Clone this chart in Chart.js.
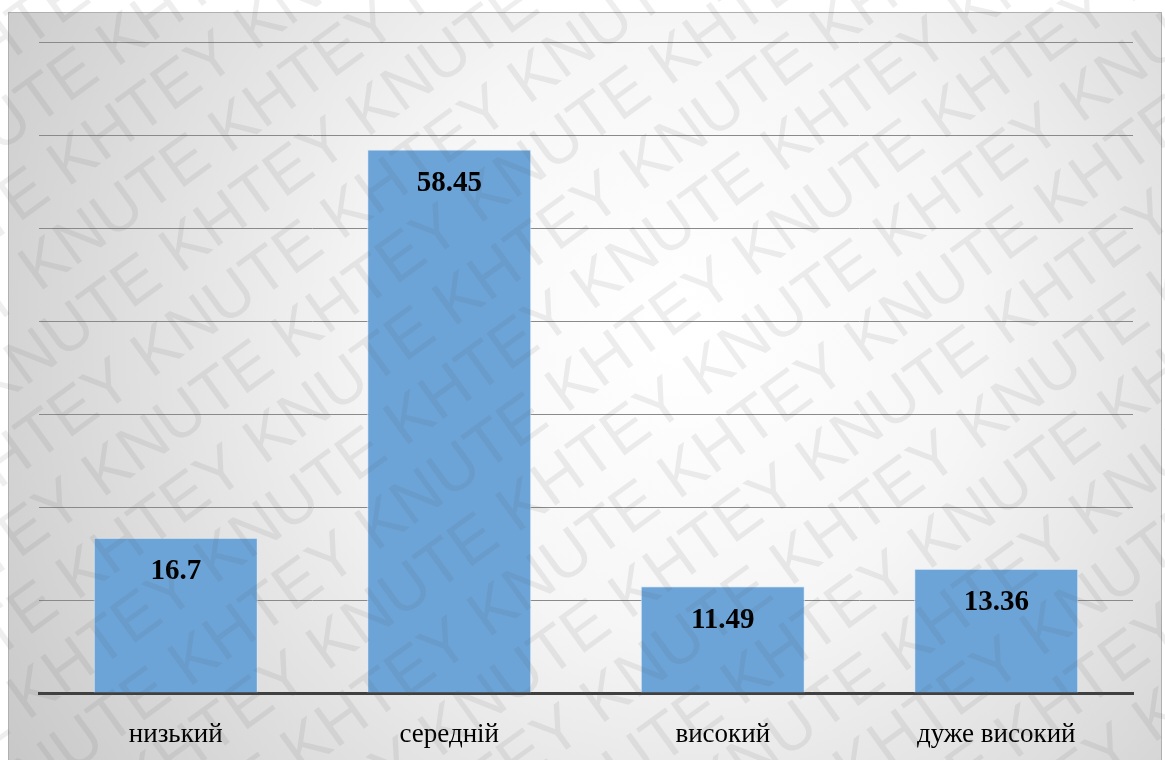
<!DOCTYPE html>
<html>
<head>
<meta charset="utf-8">
<script src="https://cdn.jsdelivr.net/npm/chart.js@4/dist/chart.umd.min.js"></script>
<style>
html,body{margin:0;padding:0;background:#fff;}
#wrap{position:relative;width:1165px;height:760px;}
</style>
</head>
<body>
<div id="wrap"><canvas id="c" width="1165" height="760"></canvas></div>
<script>
const categories = ["низький", "середній", "високий", "дуже високий"];
const values = [16.7, 58.45, 11.49, 13.36];
const valueLabels = ["16.7", "58.45", "11.49", "13.36"];
const yMin = 0, yMax = 70, yStep = 10;
const watermarkWords = ["KNUTE", "KHTEY"];

const bgPlugin = {
  id: 'bg',
  beforeDraw(chart) {
    const ctx = chart.ctx;
    ctx.save();
    const g = ctx.createRadialGradient(680, 330, 20, 680, 330, 820);
    g.addColorStop(0, '#ffffff');
    g.addColorStop(0.35, '#f6f6f6');
    g.addColorStop(1, '#c6c6c6');
    ctx.fillStyle = '#ffffff';
    ctx.fillRect(0, 0, chart.width, chart.height);
    ctx.fillStyle = g;
    ctx.fillRect(8.5, 12.5, 1153, 760);
    ctx.strokeStyle = '#b0b0b0';
    ctx.lineWidth = 1;
    ctx.strokeRect(8.5, 12.5, 1153, 760);
    ctx.restore();
  }
};

const labelPlugin = {
  id: 'vlabels',
  afterDatasetsDraw(chart) {
    const ctx = chart.ctx;
    const meta = chart.getDatasetMeta(0);
    ctx.save();
    ctx.font = 'bold 29px "Liberation Serif", "Times New Roman", serif';
    ctx.fillStyle = '#000';
    ctx.textAlign = 'center';
    ctx.textBaseline = 'middle';
    meta.data.forEach((bar, i) => {
      ctx.fillText(valueLabels[i], bar.x, bar.y + 34);
    });
    ctx.restore();
  }
};

const wmPlugin = {
  id: 'wm',
  afterDraw(chart) {
    const ctx = chart.ctx;
    ctx.save();
    ctx.beginPath();
    ctx.rect(0, 0, chart.width, chart.height);
    ctx.clip();
    ctx.translate(chart.width / 2, chart.height / 2);
    ctx.rotate(-36 * Math.PI / 180);
    ctx.font = '64px "Liberation Sans", Arial, sans-serif';
    ctx.fillStyle = 'rgba(90,90,90,0.10)';
    ctx.textBaseline = 'middle';
    const line = (watermarkWords.join(' ') + ' ').repeat(12);
    const rowH = 68;
    for (let r = -14; r <= 14; r++) {
      const shift = (r % 2 === 0) ? 0 : -130;
      ctx.fillText(line, -1200 + shift + r * 20, r * rowH);
    }
    ctx.restore();
  }
};

new Chart(document.getElementById('c'), {
  type: 'bar',
  data: {
    labels: categories,
    datasets: [{
      data: values,
      backgroundColor: '#6ca4d8',
      borderColor: 'rgba(220,235,250,0.9)',
      borderWidth: 1,
      categoryPercentage: 0.6,
      barPercentage: 1.0
    }]
  },
  options: {
    responsive: false,
    animation: false,
    devicePixelRatio: 1,
    layout: { padding: { left: 39, right: 32, top: 42, bottom: 12 } },
    plugins: { legend: { display: false }, tooltip: { enabled: false } },
    scales: {
      x: {
        grid: { display: false },
        border: { display: true, color: '#404040', width: 3 },
        afterFit(axis) { axis.height = 55; },
        ticks: {
          color: '#000',
          padding: 18,
          font: { family: '"Liberation Serif", "Times New Roman", serif', size: 27 }
        }
      },
      y: {
        min: yMin, max: yMax,
        ticks: { display: false, stepSize: yStep },
        border: { display: false },
        grid: { color: '#8a8a8a', lineWidth: 1, drawTicks: false }
      }
    }
  },
  plugins: [bgPlugin, labelPlugin, wmPlugin]
});
</script>
</body>
</html>
